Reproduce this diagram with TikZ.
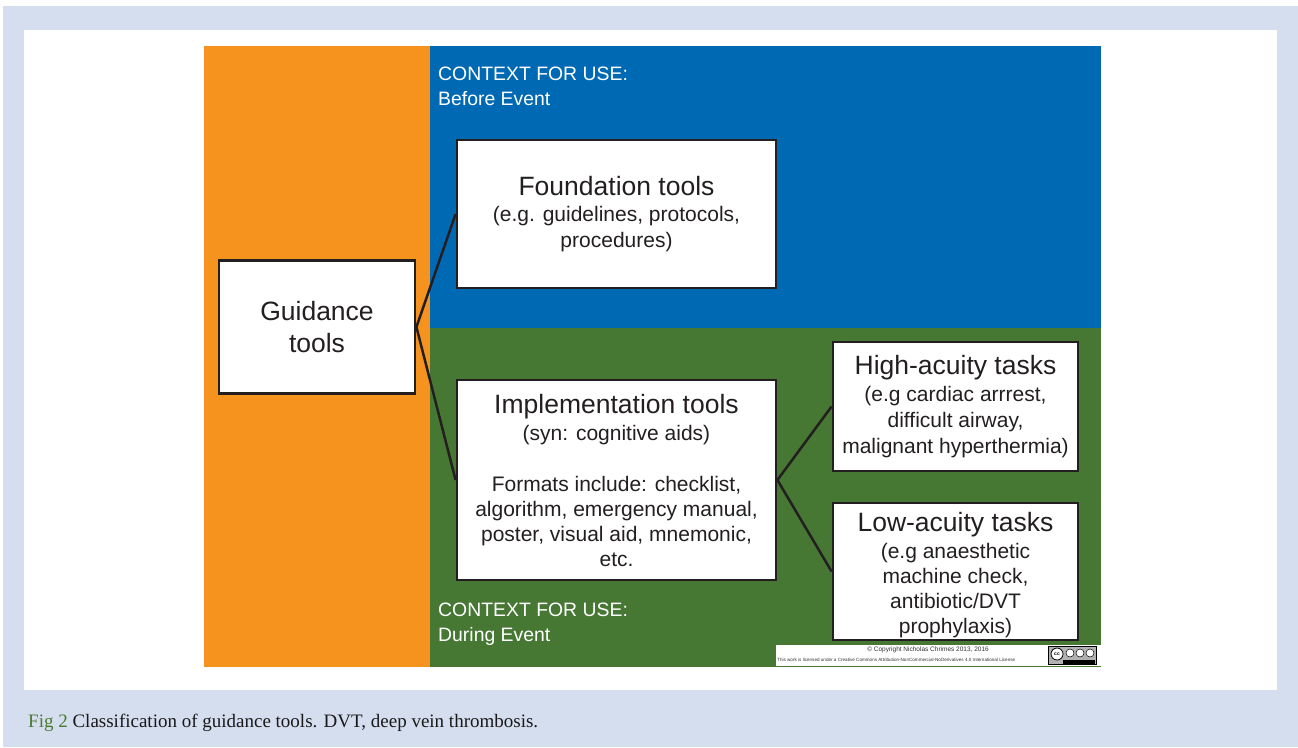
\documentclass[tikz,border=0pt]{standalone}
\usepackage{fontspec}
\setmainfont{Liberation Sans}
\newfontfamily\capfont{Liberation Serif}
\definecolor{pagebg}{HTML}{D5DEEF}
\definecolor{orangebg}{HTML}{F6921E}
\definecolor{bluebg}{HTML}{0069B4}
\definecolor{greenbg}{HTML}{467834}
\definecolor{boxline}{HTML}{231F20}
\definecolor{figgreen}{HTML}{4A7A2E}
\begin{document}
\begin{tikzpicture}[x=1pt,y=-1pt,
  box/.style={draw=boxline, line width=2.8pt, fill=white, text=boxline, align=center, inner sep=0pt, font=\fontsize{21}{25}\selectfont},
  conn/.style={draw=boxline, line width=2.5pt},
  ctx/.style={text=white, anchor=west, align=left, inner sep=0pt, font=\fontsize{19.4}{25}\selectfont}]
\useasboundingbox (0,0) rectangle (1298,747);
% backgrounds
\fill[pagebg] (3,6) rectangle (1298,747);
\fill[white] (24,30) rectangle (1277,690);
\fill[orangebg] (204,46) rectangle (430,667);
\fill[bluebg] (430,46) rectangle (1101,328);
\fill[greenbg] (430,328) rectangle (1101,667);
% context labels
\node[ctx] (ctxtop) at (438,86) {CONTEXT FOR USE:\\Before Event};
\node[ctx] (ctxbot) at (438,624) {CONTEXT FOR USE:\\During Event};
% boxes
\node[box, minimum width=196pt, minimum height=133pt, font=\fontsize{26.5}{32}\selectfont] (guid) at (317,327)
  {Guidance\\tools};
\node[box, minimum width=319pt, minimum height=148pt] (found) at (616.5,214)
  {{\fontsize{26.5}{30}\selectfont Foundation tools}\\[1pt](e.g. guidelines, protocols,\\[1pt]procedures)};
\node[box, minimum width=319pt, minimum height=200pt] (impl) at (616.5,480)
  {{\fontsize{26.5}{30}\selectfont Implementation tools}\\[2pt](syn: cognitive aids)\\[26pt]Formats include: checklist,\\algorithm, emergency manual,\\poster, visual aid, mnemonic,\\etc.};
\node[box, minimum width=245pt, minimum height=129pt] (high) at (955.5,406.5)
  {{\fontsize{26.5}{30}\selectfont High-acuity tasks}\\[2pt](e.g cardiac arrrest,\\[1pt]difficult airway,\\[1pt]malignant hyperthermia)};
\node[box, minimum width=245pt, minimum height=137pt] (low) at (955.5,571.5)
  {{\fontsize{26.5}{30}\selectfont\rule{0pt}{27pt}Low-acuity tasks}\\[2pt](e.g anaesthetic\\machine check,\\antibiotic/DVT\\prophylaxis)};
% connectors
\draw[conn] (guid.east) -- (found.west);
\draw[conn] (guid.east) -- (impl.west);
\draw[conn] (impl.east) -- (high.west);
\draw[conn] (impl.east) -- (low.west);
% copyright strip
\node[fill=white, minimum width=325pt, minimum height=21pt, inner sep=0pt, anchor=north west] (strip) at (776,645) {};
\node[inner sep=0pt, text=black!80, font=\fontsize{6.5}{7}\selectfont] (copy) at (928,650) {\textcopyright\ Copyright Nicholas Chrimes 2013, 2016};
\node[inner sep=0pt, anchor=west, text=black!80, font=\fontsize{4.6}{5}\selectfont] (lic) at (777,660) {This work is licensed under a Creative Commons Attribution-NonCommercial-NoDerivatives 4.0 International License};
\node[fill=gray!60, draw=black, line width=.6pt, minimum width=48pt, minimum height=18pt, inner sep=0pt] (ccbadge) at (1072,655) {};
\fill[black] (1063,660) rectangle (1095,664);
\node[circle, fill=white, draw=black, line width=.8pt, minimum size=12pt, inner sep=0pt, font=\fontsize{5}{5}\selectfont\bfseries] (cclogo) at (1057,654) {cc};
\node[circle, fill=white, draw=black, line width=.5pt, minimum size=8pt, inner sep=0pt] (ccby) at (1070,653) {};
\node[circle, fill=white, draw=black, line width=.5pt, minimum size=8pt, inner sep=0pt] (ccnc) at (1080,653) {};
\node[circle, fill=white, draw=black, line width=.5pt, minimum size=8pt, inner sep=0pt] (ccnd) at (1090,653) {};
% caption
\node[anchor=west, inner sep=0pt, font=\capfont\fontsize{19}{22}\selectfont, text=black!90] (cap) at (28,723)
  {\textcolor{figgreen}{Fig 2} Classification of guidance tools. DVT, deep vein thrombosis.};
\end{tikzpicture}
\end{document}
